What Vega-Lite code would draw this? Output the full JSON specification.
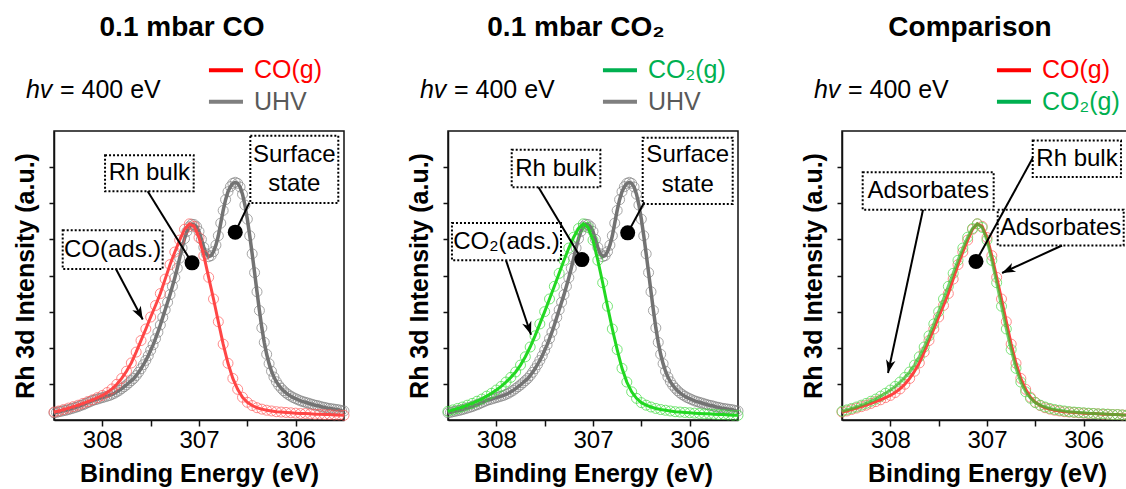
{
  "$schema": "https://vega.github.io/schema/vega-lite/v6.json",
  "padding": {"left": 12, "top": 13, "right": 0, "bottom": 0},
  "background": "white",
  "config": {
    "font": "Liberation Sans",
    "view": {"stroke": "#111", "strokeWidth": 1.5},
    "axis": {"grid": false, "domainColor": "#111", "domainWidth": 1.5, "tickColor": "#111", "tickWidth": 1.5, "labelColor": "#000", "titleColor": "#000", "labelFontSize": 24, "titleFontSize": 25, "titleFontWeight": "bold"},
    "title": {"fontSize": 28, "fontWeight": "bold", "color": "#000", "dx": -17, "offset": 16.5}
  },
  "datasets": {
    "uhv": [
      {"E":308.5,"I":0.20},{"E":308.475,"I":0.21},{"E":308.45,"I":0.23},{"E":308.425,"I":0.24},{"E":308.4,"I":0.26},{"E":308.375,"I":0.27},{"E":308.35,"I":0.29},{"E":308.325,"I":0.31},{"E":308.3,"I":0.33},{"E":308.275,"I":0.35},{"E":308.25,"I":0.37},{"E":308.225,"I":0.40},{"E":308.2,"I":0.42},{"E":308.175,"I":0.45},{"E":308.15,"I":0.48},{"E":308.125,"I":0.51},{"E":308.1,"I":0.54},{"E":308.075,"I":0.56},{"E":308.05,"I":0.58},{"E":308.025,"I":0.60},{"E":308.0,"I":0.62},{"E":307.975,"I":0.64},{"E":307.95,"I":0.66},{"E":307.925,"I":0.68},{"E":307.9,"I":0.71},{"E":307.875,"I":0.74},{"E":307.85,"I":0.78},{"E":307.825,"I":0.82},{"E":307.8,"I":0.87},{"E":307.775,"I":0.92},{"E":307.75,"I":0.97},{"E":307.725,"I":1.03},{"E":307.7,"I":1.09},{"E":307.675,"I":1.15},{"E":307.65,"I":1.23},{"E":307.625,"I":1.32},{"E":307.6,"I":1.42},{"E":307.575,"I":1.53},{"E":307.55,"I":1.65},{"E":307.525,"I":1.78},{"E":307.5,"I":1.93},{"E":307.475,"I":2.08},{"E":307.45,"I":2.25},{"E":307.425,"I":2.43},{"E":307.4,"I":2.63},{"E":307.375,"I":2.84},{"E":307.35,"I":3.05},{"E":307.325,"I":3.26},{"E":307.3,"I":3.47},{"E":307.275,"I":3.70},{"E":307.25,"I":3.94},{"E":307.225,"I":4.20},{"E":307.2,"I":4.48},{"E":307.175,"I":4.76},{"E":307.15,"I":5.02},{"E":307.125,"I":5.22},{"E":307.1,"I":5.35},{"E":307.075,"I":5.42},{"E":307.05,"I":5.41},{"E":307.025,"I":5.35},{"E":307.0,"I":5.22},{"E":306.975,"I":5.00},{"E":306.95,"I":4.78},{"E":306.925,"I":4.60},{"E":306.9,"I":4.52},{"E":306.875,"I":4.55},{"E":306.85,"I":4.66},{"E":306.825,"I":4.84},{"E":306.8,"I":5.10},{"E":306.775,"I":5.45},{"E":306.75,"I":5.80},{"E":306.725,"I":6.10},{"E":306.7,"I":6.32},{"E":306.675,"I":6.46},{"E":306.65,"I":6.55},{"E":306.625,"I":6.58},{"E":306.6,"I":6.55},{"E":306.575,"I":6.45},{"E":306.55,"I":6.25},{"E":306.525,"I":5.95},{"E":306.5,"I":5.56},{"E":306.475,"I":5.10},{"E":306.45,"I":4.60},{"E":306.425,"I":4.08},{"E":306.4,"I":3.55},{"E":306.375,"I":3.03},{"E":306.35,"I":2.55},{"E":306.325,"I":2.15},{"E":306.3,"I":1.82},{"E":306.275,"I":1.56},{"E":306.25,"I":1.35},{"E":306.225,"I":1.19},{"E":306.2,"I":1.06},{"E":306.175,"I":0.96},{"E":306.15,"I":0.88},{"E":306.125,"I":0.81},{"E":306.1,"I":0.75},{"E":306.075,"I":0.70},{"E":306.05,"I":0.66},{"E":306.025,"I":0.62},{"E":306.0,"I":0.59},{"E":305.975,"I":0.56},{"E":305.95,"I":0.53},{"E":305.925,"I":0.51},{"E":305.9,"I":0.49},{"E":305.875,"I":0.47},{"E":305.85,"I":0.45},{"E":305.825,"I":0.43},{"E":305.8,"I":0.41},{"E":305.775,"I":0.40},{"E":305.75,"I":0.38},{"E":305.725,"I":0.36},{"E":305.7,"I":0.35},{"E":305.675,"I":0.33},{"E":305.65,"I":0.32},{"E":305.625,"I":0.31},{"E":305.6,"I":0.30},{"E":305.575,"I":0.29},{"E":305.55,"I":0.28},{"E":305.525,"I":0.26},{"E":305.5,"I":0.25}
    ],
    "co": [
      {"E":308.5,"I":0.22},{"E":308.45,"I":0.25},{"E":308.4,"I":0.29},{"E":308.35,"I":0.33},{"E":308.3,"I":0.37},{"E":308.25,"I":0.41},{"E":308.2,"I":0.46},{"E":308.15,"I":0.51},{"E":308.1,"I":0.56},{"E":308.05,"I":0.62},{"E":308.0,"I":0.68},{"E":307.95,"I":0.76},{"E":307.9,"I":0.86},{"E":307.85,"I":0.99},{"E":307.8,"I":1.15},{"E":307.75,"I":1.35},{"E":307.7,"I":1.58},{"E":307.65,"I":1.88},{"E":307.6,"I":2.20},{"E":307.55,"I":2.52},{"E":307.5,"I":2.85},{"E":307.45,"I":3.17},{"E":307.4,"I":3.50},{"E":307.35,"I":3.90},{"E":307.3,"I":4.30},{"E":307.25,"I":4.65},{"E":307.2,"I":4.98},{"E":307.15,"I":5.28},{"E":307.1,"I":5.43},{"E":307.05,"I":5.36},{"E":307.0,"I":5.05},{"E":306.95,"I":4.55},{"E":306.9,"I":3.95},{"E":306.85,"I":3.35},{"E":306.8,"I":2.72},{"E":306.75,"I":2.10},{"E":306.7,"I":1.57},{"E":306.65,"I":1.15},{"E":306.6,"I":0.85},{"E":306.55,"I":0.63},{"E":306.5,"I":0.49},{"E":306.45,"I":0.40},{"E":306.4,"I":0.34},{"E":306.35,"I":0.30},{"E":306.3,"I":0.27},{"E":306.25,"I":0.25},{"E":306.2,"I":0.23},{"E":306.15,"I":0.22},{"E":306.1,"I":0.21},{"E":306.05,"I":0.20},{"E":306.0,"I":0.19},{"E":305.95,"I":0.18},{"E":305.9,"I":0.18},{"E":305.85,"I":0.17},{"E":305.8,"I":0.16},{"E":305.75,"I":0.16},{"E":305.7,"I":0.15},{"E":305.65,"I":0.15},{"E":305.6,"I":0.14},{"E":305.55,"I":0.14},{"E":305.5,"I":0.13}
    ],
    "co2": [
      {"E":308.5,"I":0.24},{"E":308.45,"I":0.28},{"E":308.4,"I":0.32},{"E":308.35,"I":0.36},{"E":308.3,"I":0.41},{"E":308.25,"I":0.46},{"E":308.2,"I":0.52},{"E":308.15,"I":0.58},{"E":308.1,"I":0.66},{"E":308.05,"I":0.74},{"E":308.0,"I":0.83},{"E":307.95,"I":0.93},{"E":307.9,"I":1.05},{"E":307.85,"I":1.18},{"E":307.8,"I":1.33},{"E":307.75,"I":1.52},{"E":307.7,"I":1.75},{"E":307.65,"I":2.02},{"E":307.6,"I":2.33},{"E":307.55,"I":2.66},{"E":307.5,"I":3.00},{"E":307.45,"I":3.35},{"E":307.4,"I":3.70},{"E":307.35,"I":4.06},{"E":307.3,"I":4.42},{"E":307.25,"I":4.76},{"E":307.2,"I":5.06},{"E":307.15,"I":5.30},{"E":307.1,"I":5.43},{"E":307.05,"I":5.33},{"E":307.0,"I":4.98},{"E":306.95,"I":4.42},{"E":306.9,"I":3.80},{"E":306.85,"I":3.15},{"E":306.8,"I":2.52},{"E":306.75,"I":1.95},{"E":306.7,"I":1.43},{"E":306.65,"I":1.05},{"E":306.6,"I":0.78},{"E":306.55,"I":0.60},{"E":306.5,"I":0.48},{"E":306.45,"I":0.41},{"E":306.4,"I":0.36},{"E":306.35,"I":0.32},{"E":306.3,"I":0.29},{"E":306.25,"I":0.27},{"E":306.2,"I":0.25},{"E":306.15,"I":0.23},{"E":306.1,"I":0.22},{"E":306.05,"I":0.21},{"E":306.0,"I":0.20},{"E":305.95,"I":0.19},{"E":305.9,"I":0.18},{"E":305.85,"I":0.17},{"E":305.8,"I":0.17},{"E":305.75,"I":0.16},{"E":305.7,"I":0.15},{"E":305.65,"I":0.15},{"E":305.6,"I":0.14},{"E":305.55,"I":0.13},{"E":305.5,"I":0.13}
    ],
    "boxes": [
      {"p":1,"E":307.972,"E2":307.055,"I":7.33,"I2":6.33},
      {"p":1,"E":306.469,"E2":305.559,"I":7.87,"I2":6.01},
      {"p":1,"E":308.41,"E2":307.376,"I":5.25,"I2":4.18},
      {"p":2,"E":307.841,"E2":306.924,"I":7.48,"I2":6.44},
      {"p":2,"E":306.486,"E2":305.555,"I":7.81,"I2":5.98},
      {"p":2,"E":308.459,"E2":307.331,"I":5.45,"I2":4.42},
      {"p":3,"E":306.527,"E2":305.614,"I":7.74,"I2":6.73},
      {"p":3,"E":308.286,"E2":306.931,"I":6.86,"I2":5.82},
      {"p":3,"E":306.889,"E2":305.586,"I":5.82,"I2":4.83}
    ],
    "labels": [
      {"p":1,"E":307.514,"I":6.83,"t":"Rh bulk"},
      {"p":1,"E":306.014,"I":7.34,"t":"Surface"},
      {"p":1,"E":306.014,"I":6.53,"t":"state"},
      {"p":1,"E":307.893,"I":4.71,"t":"CO(ads.)"},
      {"p":2,"E":307.383,"I":6.96,"t":"Rh bulk"},
      {"p":2,"E":306.02,"I":7.34,"t":"Surface"},
      {"p":2,"E":306.02,"I":6.5,"t":"state"},
      {"p":2,"E":307.895,"I":4.94,"t":"CO₂(ads.)"},
      {"p":3,"E":306.069,"I":7.22,"t":"Rh bulk"},
      {"p":3,"E":307.608,"I":6.34,"t":"Adsorbates"},
      {"p":3,"E":306.238,"I":5.31,"t":"Adsorbates"}
    ],
    "links": [
      {"p":1,"E":307.531,"I":6.33,"E2":307.072,"I2":4.35},
      {"p":1,"E":306.48,"I":6.01,"E2":306.625,"I2":5.2},
      {"p":1,"E":307.859,"I":4.18,"E2":307.582,"I2":2.78},
      {"p":2,"E":307.564,"I":6.44,"E2":307.115,"I2":4.44},
      {"p":2,"E":306.469,"I":6.03,"E2":306.641,"I2":5.18},
      {"p":2,"E":307.9,"I":4.42,"E2":307.641,"I2":2.36},
      {"p":3,"E":306.527,"I":7.25,"E2":307.114,"I2":4.39},
      {"p":3,"E":307.662,"I":5.82,"E2":308.024,"I2":1.3},
      {"p":3,"E":306.224,"I":4.83,"E2":306.844,"I2":4.07}
    ],
    "heads": [
      {"p":1,"E":307.582,"I":2.78,"ang":152},
      {"p":2,"E":307.641,"I":2.36,"ang":161},
      {"p":3,"E":308.024,"I":1.3,"ang":192},
      {"p":3,"E":306.844,"I":4.07,"ang":245}
    ],
    "dots": [
      {"p":1,"E":307.072,"I":4.35},{"p":1,"E":306.625,"I":5.2},
      {"p":2,"E":307.115,"I":4.44},{"p":2,"E":306.641,"I":5.18},
      {"p":3,"E":307.114,"I":4.39}
    ],
    "legend": [
      {"p":1,"s":"CO(g)","E":306.897,"E2":306.545,"I":9.68},
      {"p":1,"s":"UHV","E":306.897,"E2":306.545,"I":8.81},
      {"p":2,"s":"CO₂(g)","E":306.897,"E2":306.545,"I":9.68},
      {"p":2,"s":"UHV","E":306.897,"E2":306.545,"I":8.81},
      {"p":3,"s":"CO(g)","E":306.897,"E2":306.545,"I":9.68},
      {"p":3,"s":"CO₂(g)","E":306.897,"E2":306.545,"I":8.81}
    ],
    "hv": [{"E":308.79,"I":9.13,"a":"hv","b":"= 400 eV"}]
  },
  "bounds": "flush",
  "spacing": 104,
  "hconcat": [
    {
      "width": 290, "height": 289,
      "title": {"text": "0.1 mbar CO"},
      "layer": [
        {"data": {"name": "uhv"}, "mark": {"type": "point", "shape": "circle", "filled": false, "size": 100, "strokeWidth": 1, "color": "#808080"},
         "encoding": {
           "x": {"field": "E", "type": "quantitative", "scale": {"domain": [305.5, 308.5], "reverse": true, "nice": false, "zero": false}, "axis": {"title": "Binding Energy (eV)", "values": [308, 307.5, 307, 306.5, 306], "format": ".0f", "labelExpr": "datum.value % 1 === 0 ? datum.label : ''", "tickSize": 6, "labelPadding": 2, "titlePadding": 9}},
           "y": {"field": "I", "type": "quantitative", "scale": {"domain": [0, 8], "nice": false, "zero": false}, "axis": {"title": "Rh 3d Intensity (a.u.)", "values": [1, 2, 3, 4, 5, 6, 7], "labels": false, "tickSize": 5, "titlePadding": 10}}
         }},
        {"data": {"name": "uhv"}, "mark": {"type": "line", "color": "#737373", "strokeWidth": 3.5},
         "encoding": {"x": {"field": "E", "type": "quantitative", "scale": {"domain": [305.5, 308.5], "reverse": true, "nice": false, "zero": false}}, "y": {"field": "I", "type": "quantitative", "scale": {"domain": [0, 8], "nice": false, "zero": false}}}},
        {"data": {"name": "co"}, "mark": {"type": "point", "shape": "circle", "filled": false, "size": 100, "strokeWidth": 1, "color": "#ff5a5a"},
         "encoding": {"x": {"field": "E", "type": "quantitative", "scale": {"domain": [305.5, 308.5], "reverse": true, "nice": false, "zero": false}}, "y": {"field": "I", "type": "quantitative", "scale": {"domain": [0, 8], "nice": false, "zero": false}}}},
        {"data": {"name": "co"}, "mark": {"type": "line", "color": "#ff4646", "strokeWidth": 3},
         "encoding": {"x": {"field": "E", "type": "quantitative", "scale": {"domain": [305.5, 308.5], "reverse": true, "nice": false, "zero": false}}, "y": {"field": "I", "type": "quantitative", "scale": {"domain": [0, 8], "nice": false, "zero": false}}}},
        {"data": {"name": "boxes"}, "transform": [{"filter": "datum.p == 1"}], "mark": {"type": "rect", "filled": false, "stroke": "#000", "strokeWidth": 2, "strokeDash": [2, 2]},
         "encoding": {"x": {"field": "E", "type": "quantitative", "scale": {"domain": [305.5, 308.5], "reverse": true, "nice": false, "zero": false}}, "x2": {"field": "E2"}, "y": {"field": "I", "type": "quantitative", "scale": {"domain": [0, 8], "nice": false, "zero": false}}, "y2": {"field": "I2"}}},
        {"data": {"name": "labels"}, "transform": [{"filter": "datum.p == 1"}], "mark": {"type": "text", "fontSize": 24, "align": "center", "baseline": "middle", "color": "#000"},
         "encoding": {"x": {"field": "E", "type": "quantitative", "scale": {"domain": [305.5, 308.5], "reverse": true, "nice": false, "zero": false}}, "y": {"field": "I", "type": "quantitative", "scale": {"domain": [0, 8], "nice": false, "zero": false}}, "text": {"field": "t"}}},
        {"data": {"name": "links"}, "transform": [{"filter": "datum.p == 1"}], "mark": {"type": "rule", "color": "#000", "strokeWidth": 2},
         "encoding": {"x": {"field": "E", "type": "quantitative", "scale": {"domain": [305.5, 308.5], "reverse": true, "nice": false, "zero": false}}, "x2": {"field": "E2"}, "y": {"field": "I", "type": "quantitative", "scale": {"domain": [0, 8], "nice": false, "zero": false}}, "y2": {"field": "I2"}}},
        {"data": {"name": "heads"}, "transform": [{"filter": "datum.p == 1"}], "mark": {"type": "point", "shape": "M0,0L-0.8,2.2L0,1.6L0.8,2.2Z", "filled": true, "size": 144, "color": "#000", "opacity": 1},
         "encoding": {"x": {"field": "E", "type": "quantitative", "scale": {"domain": [305.5, 308.5], "reverse": true, "nice": false, "zero": false}}, "y": {"field": "I", "type": "quantitative", "scale": {"domain": [0, 8], "nice": false, "zero": false}}, "angle": {"field": "ang", "type": "quantitative", "scale": null}}},
        {"data": {"name": "dots"}, "transform": [{"filter": "datum.p == 1"}], "mark": {"type": "point", "shape": "circle", "filled": true, "size": 225, "color": "#000", "opacity": 1},
         "encoding": {"x": {"field": "E", "type": "quantitative", "scale": {"domain": [305.5, 308.5], "reverse": true, "nice": false, "zero": false}}, "y": {"field": "I", "type": "quantitative", "scale": {"domain": [0, 8], "nice": false, "zero": false}}}},
        {"data": {"name": "legend"}, "transform": [{"filter": "datum.p == 1"}], "mark": {"type": "rule", "strokeWidth": 4},
         "encoding": {"x": {"field": "E", "type": "quantitative", "scale": {"domain": [305.5, 308.5], "reverse": true, "nice": false, "zero": false}}, "x2": {"field": "E2"}, "y": {"field": "I", "type": "quantitative", "scale": {"domain": [0, 8], "nice": false, "zero": false}}, "stroke": {"field": "s", "type": "nominal", "scale": {"domain": ["CO(g)", "CO₂(g)", "UHV"], "range": ["#ff0000", "#00b050", "#7f7f7f"]}, "legend": null}}},
        {"data": {"name": "legend"}, "transform": [{"filter": "datum.p == 1"}], "mark": {"type": "text", "fontSize": 25, "align": "left", "baseline": "middle", "dx": 11},
         "encoding": {"x": {"field": "E2", "type": "quantitative", "scale": {"domain": [305.5, 308.5], "reverse": true, "nice": false, "zero": false}}, "y": {"field": "I", "type": "quantitative", "scale": {"domain": [0, 8], "nice": false, "zero": false}}, "text": {"field": "s"}, "color": {"field": "s", "type": "nominal", "scale": {"domain": ["CO(g)", "CO₂(g)", "UHV"], "range": ["#ff0000", "#00b050", "#595959"]}, "legend": null}}},
        {"data": {"name": "hv"}, "mark": {"type": "text", "fontSize": 25, "fontStyle": "italic", "align": "left", "baseline": "middle", "color": "#000"},
         "encoding": {"x": {"field": "E", "type": "quantitative", "scale": {"domain": [305.5, 308.5], "reverse": true, "nice": false, "zero": false}}, "y": {"field": "I", "type": "quantitative", "scale": {"domain": [0, 8], "nice": false, "zero": false}}, "text": {"field": "a"}}},
        {"data": {"name": "hv"}, "mark": {"type": "text", "fontSize": 25, "align": "left", "baseline": "middle", "color": "#000", "dx": 34},
         "encoding": {"x": {"field": "E", "type": "quantitative", "scale": {"domain": [305.5, 308.5], "reverse": true, "nice": false, "zero": false}}, "y": {"field": "I", "type": "quantitative", "scale": {"domain": [0, 8], "nice": false, "zero": false}}, "text": {"field": "b"}}}
      ]
    },
    {
      "width": 290, "height": 289,
      "title": {"text": "0.1 mbar CO₂"},
      "layer": [
        {"data": {"name": "uhv"}, "mark": {"type": "point", "shape": "circle", "filled": false, "size": 100, "strokeWidth": 1, "color": "#808080"},
         "encoding": {
           "x": {"field": "E", "type": "quantitative", "scale": {"domain": [305.5, 308.5], "reverse": true, "nice": false, "zero": false}, "axis": {"title": "Binding Energy (eV)", "values": [308, 307.5, 307, 306.5, 306], "format": ".0f", "labelExpr": "datum.value % 1 === 0 ? datum.label : ''", "tickSize": 6, "labelPadding": 2, "titlePadding": 9}},
           "y": {"field": "I", "type": "quantitative", "scale": {"domain": [0, 8], "nice": false, "zero": false}, "axis": {"title": "Rh 3d Intensity (a.u.)", "values": [1, 2, 3, 4, 5, 6, 7], "labels": false, "tickSize": 5, "titlePadding": 10}}
         }},
        {"data": {"name": "uhv"}, "mark": {"type": "line", "color": "#737373", "strokeWidth": 3.5},
         "encoding": {"x": {"field": "E", "type": "quantitative", "scale": {"domain": [305.5, 308.5], "reverse": true, "nice": false, "zero": false}}, "y": {"field": "I", "type": "quantitative", "scale": {"domain": [0, 8], "nice": false, "zero": false}}}},
        {"data": {"name": "co2"}, "mark": {"type": "point", "shape": "circle", "filled": false, "size": 100, "strokeWidth": 1, "color": "#3ddc3d"},
         "encoding": {"x": {"field": "E", "type": "quantitative", "scale": {"domain": [305.5, 308.5], "reverse": true, "nice": false, "zero": false}}, "y": {"field": "I", "type": "quantitative", "scale": {"domain": [0, 8], "nice": false, "zero": false}}}},
        {"data": {"name": "co2"}, "mark": {"type": "line", "color": "#22d822", "strokeWidth": 3},
         "encoding": {"x": {"field": "E", "type": "quantitative", "scale": {"domain": [305.5, 308.5], "reverse": true, "nice": false, "zero": false}}, "y": {"field": "I", "type": "quantitative", "scale": {"domain": [0, 8], "nice": false, "zero": false}}}},
        {"data": {"name": "boxes"}, "transform": [{"filter": "datum.p == 2"}], "mark": {"type": "rect", "filled": false, "stroke": "#000", "strokeWidth": 2, "strokeDash": [2, 2]},
         "encoding": {"x": {"field": "E", "type": "quantitative", "scale": {"domain": [305.5, 308.5], "reverse": true, "nice": false, "zero": false}}, "x2": {"field": "E2"}, "y": {"field": "I", "type": "quantitative", "scale": {"domain": [0, 8], "nice": false, "zero": false}}, "y2": {"field": "I2"}}},
        {"data": {"name": "labels"}, "transform": [{"filter": "datum.p == 2"}], "mark": {"type": "text", "fontSize": 24, "align": "center", "baseline": "middle", "color": "#000"},
         "encoding": {"x": {"field": "E", "type": "quantitative", "scale": {"domain": [305.5, 308.5], "reverse": true, "nice": false, "zero": false}}, "y": {"field": "I", "type": "quantitative", "scale": {"domain": [0, 8], "nice": false, "zero": false}}, "text": {"field": "t"}}},
        {"data": {"name": "links"}, "transform": [{"filter": "datum.p == 2"}], "mark": {"type": "rule", "color": "#000", "strokeWidth": 2},
         "encoding": {"x": {"field": "E", "type": "quantitative", "scale": {"domain": [305.5, 308.5], "reverse": true, "nice": false, "zero": false}}, "x2": {"field": "E2"}, "y": {"field": "I", "type": "quantitative", "scale": {"domain": [0, 8], "nice": false, "zero": false}}, "y2": {"field": "I2"}}},
        {"data": {"name": "heads"}, "transform": [{"filter": "datum.p == 2"}], "mark": {"type": "point", "shape": "M0,0L-0.8,2.2L0,1.6L0.8,2.2Z", "filled": true, "size": 144, "color": "#000", "opacity": 1},
         "encoding": {"x": {"field": "E", "type": "quantitative", "scale": {"domain": [305.5, 308.5], "reverse": true, "nice": false, "zero": false}}, "y": {"field": "I", "type": "quantitative", "scale": {"domain": [0, 8], "nice": false, "zero": false}}, "angle": {"field": "ang", "type": "quantitative", "scale": null}}},
        {"data": {"name": "dots"}, "transform": [{"filter": "datum.p == 2"}], "mark": {"type": "point", "shape": "circle", "filled": true, "size": 225, "color": "#000", "opacity": 1},
         "encoding": {"x": {"field": "E", "type": "quantitative", "scale": {"domain": [305.5, 308.5], "reverse": true, "nice": false, "zero": false}}, "y": {"field": "I", "type": "quantitative", "scale": {"domain": [0, 8], "nice": false, "zero": false}}}},
        {"data": {"name": "legend"}, "transform": [{"filter": "datum.p == 2"}], "mark": {"type": "rule", "strokeWidth": 4},
         "encoding": {"x": {"field": "E", "type": "quantitative", "scale": {"domain": [305.5, 308.5], "reverse": true, "nice": false, "zero": false}}, "x2": {"field": "E2"}, "y": {"field": "I", "type": "quantitative", "scale": {"domain": [0, 8], "nice": false, "zero": false}}, "stroke": {"field": "s", "type": "nominal", "scale": {"domain": ["CO(g)", "CO₂(g)", "UHV"], "range": ["#ff0000", "#00b050", "#7f7f7f"]}, "legend": null}}},
        {"data": {"name": "legend"}, "transform": [{"filter": "datum.p == 2"}], "mark": {"type": "text", "fontSize": 25, "align": "left", "baseline": "middle", "dx": 11},
         "encoding": {"x": {"field": "E2", "type": "quantitative", "scale": {"domain": [305.5, 308.5], "reverse": true, "nice": false, "zero": false}}, "y": {"field": "I", "type": "quantitative", "scale": {"domain": [0, 8], "nice": false, "zero": false}}, "text": {"field": "s"}, "color": {"field": "s", "type": "nominal", "scale": {"domain": ["CO(g)", "CO₂(g)", "UHV"], "range": ["#ff0000", "#00b050", "#595959"]}, "legend": null}}},
        {"data": {"name": "hv"}, "mark": {"type": "text", "fontSize": 25, "fontStyle": "italic", "align": "left", "baseline": "middle", "color": "#000"},
         "encoding": {"x": {"field": "E", "type": "quantitative", "scale": {"domain": [305.5, 308.5], "reverse": true, "nice": false, "zero": false}}, "y": {"field": "I", "type": "quantitative", "scale": {"domain": [0, 8], "nice": false, "zero": false}}, "text": {"field": "a"}}},
        {"data": {"name": "hv"}, "mark": {"type": "text", "fontSize": 25, "align": "left", "baseline": "middle", "color": "#000", "dx": 34},
         "encoding": {"x": {"field": "E", "type": "quantitative", "scale": {"domain": [305.5, 308.5], "reverse": true, "nice": false, "zero": false}}, "y": {"field": "I", "type": "quantitative", "scale": {"domain": [0, 8], "nice": false, "zero": false}}, "text": {"field": "b"}}}
      ]
    },
    {
      "width": 290, "height": 289,
      "title": {"text": "Comparison"},
      "layer": [
        {"data": {"name": "co"}, "mark": {"type": "point", "shape": "circle", "filled": false, "size": 100, "strokeWidth": 1, "color": "#ff5a5a"},
         "encoding": {
           "x": {"field": "E", "type": "quantitative", "scale": {"domain": [305.5, 308.5], "reverse": true, "nice": false, "zero": false}, "axis": {"title": "Binding Energy (eV)", "values": [308, 307.5, 307, 306.5, 306], "format": ".0f", "labelExpr": "datum.value % 1 === 0 ? datum.label : ''", "tickSize": 6, "labelPadding": 2, "titlePadding": 9}},
           "y": {"field": "I", "type": "quantitative", "scale": {"domain": [0, 8], "nice": false, "zero": false}, "axis": {"title": "Rh 3d Intensity (a.u.)", "values": [1, 2, 3, 4, 5, 6, 7], "labels": false, "tickSize": 5, "titlePadding": 10}}
         }},
        {"data": {"name": "co2"}, "mark": {"type": "point", "shape": "circle", "filled": false, "size": 100, "strokeWidth": 1, "color": "#5ee05e", "opacity": 0.8},
         "encoding": {"x": {"field": "E", "type": "quantitative", "scale": {"domain": [305.5, 308.5], "reverse": true, "nice": false, "zero": false}}, "y": {"field": "I", "type": "quantitative", "scale": {"domain": [0, 8], "nice": false, "zero": false}}}},
        {"data": {"name": "co"}, "mark": {"type": "line", "color": "#ff4040", "strokeWidth": 3},
         "encoding": {"x": {"field": "E", "type": "quantitative", "scale": {"domain": [305.5, 308.5], "reverse": true, "nice": false, "zero": false}}, "y": {"field": "I", "type": "quantitative", "scale": {"domain": [0, 8], "nice": false, "zero": false}}}},
        {"data": {"name": "co2"}, "mark": {"type": "line", "color": "#2fc42f", "strokeWidth": 3, "opacity": 0.7},
         "encoding": {"x": {"field": "E", "type": "quantitative", "scale": {"domain": [305.5, 308.5], "reverse": true, "nice": false, "zero": false}}, "y": {"field": "I", "type": "quantitative", "scale": {"domain": [0, 8], "nice": false, "zero": false}}}},
        {"data": {"name": "boxes"}, "transform": [{"filter": "datum.p == 3"}], "mark": {"type": "rect", "filled": false, "stroke": "#000", "strokeWidth": 2, "strokeDash": [2, 2]},
         "encoding": {"x": {"field": "E", "type": "quantitative", "scale": {"domain": [305.5, 308.5], "reverse": true, "nice": false, "zero": false}}, "x2": {"field": "E2"}, "y": {"field": "I", "type": "quantitative", "scale": {"domain": [0, 8], "nice": false, "zero": false}}, "y2": {"field": "I2"}}},
        {"data": {"name": "labels"}, "transform": [{"filter": "datum.p == 3"}], "mark": {"type": "text", "fontSize": 24, "align": "center", "baseline": "middle", "color": "#000"},
         "encoding": {"x": {"field": "E", "type": "quantitative", "scale": {"domain": [305.5, 308.5], "reverse": true, "nice": false, "zero": false}}, "y": {"field": "I", "type": "quantitative", "scale": {"domain": [0, 8], "nice": false, "zero": false}}, "text": {"field": "t"}}},
        {"data": {"name": "links"}, "transform": [{"filter": "datum.p == 3"}], "mark": {"type": "rule", "color": "#000", "strokeWidth": 2},
         "encoding": {"x": {"field": "E", "type": "quantitative", "scale": {"domain": [305.5, 308.5], "reverse": true, "nice": false, "zero": false}}, "x2": {"field": "E2"}, "y": {"field": "I", "type": "quantitative", "scale": {"domain": [0, 8], "nice": false, "zero": false}}, "y2": {"field": "I2"}}},
        {"data": {"name": "heads"}, "transform": [{"filter": "datum.p == 3"}], "mark": {"type": "point", "shape": "M0,0L-0.8,2.2L0,1.6L0.8,2.2Z", "filled": true, "size": 144, "color": "#000", "opacity": 1},
         "encoding": {"x": {"field": "E", "type": "quantitative", "scale": {"domain": [305.5, 308.5], "reverse": true, "nice": false, "zero": false}}, "y": {"field": "I", "type": "quantitative", "scale": {"domain": [0, 8], "nice": false, "zero": false}}, "angle": {"field": "ang", "type": "quantitative", "scale": null}}},
        {"data": {"name": "dots"}, "transform": [{"filter": "datum.p == 3"}], "mark": {"type": "point", "shape": "circle", "filled": true, "size": 225, "color": "#000", "opacity": 1},
         "encoding": {"x": {"field": "E", "type": "quantitative", "scale": {"domain": [305.5, 308.5], "reverse": true, "nice": false, "zero": false}}, "y": {"field": "I", "type": "quantitative", "scale": {"domain": [0, 8], "nice": false, "zero": false}}}},
        {"data": {"name": "legend"}, "transform": [{"filter": "datum.p == 3"}], "mark": {"type": "rule", "strokeWidth": 4},
         "encoding": {"x": {"field": "E", "type": "quantitative", "scale": {"domain": [305.5, 308.5], "reverse": true, "nice": false, "zero": false}}, "x2": {"field": "E2"}, "y": {"field": "I", "type": "quantitative", "scale": {"domain": [0, 8], "nice": false, "zero": false}}, "stroke": {"field": "s", "type": "nominal", "scale": {"domain": ["CO(g)", "CO₂(g)", "UHV"], "range": ["#ff0000", "#00b050", "#7f7f7f"]}, "legend": null}}},
        {"data": {"name": "legend"}, "transform": [{"filter": "datum.p == 3"}], "mark": {"type": "text", "fontSize": 25, "align": "left", "baseline": "middle", "dx": 11},
         "encoding": {"x": {"field": "E2", "type": "quantitative", "scale": {"domain": [305.5, 308.5], "reverse": true, "nice": false, "zero": false}}, "y": {"field": "I", "type": "quantitative", "scale": {"domain": [0, 8], "nice": false, "zero": false}}, "text": {"field": "s"}, "color": {"field": "s", "type": "nominal", "scale": {"domain": ["CO(g)", "CO₂(g)", "UHV"], "range": ["#ff0000", "#00b050", "#595959"]}, "legend": null}}},
        {"data": {"name": "hv"}, "mark": {"type": "text", "fontSize": 25, "fontStyle": "italic", "align": "left", "baseline": "middle", "color": "#000"},
         "encoding": {"x": {"field": "E", "type": "quantitative", "scale": {"domain": [305.5, 308.5], "reverse": true, "nice": false, "zero": false}}, "y": {"field": "I", "type": "quantitative", "scale": {"domain": [0, 8], "nice": false, "zero": false}}, "text": {"field": "a"}}},
        {"data": {"name": "hv"}, "mark": {"type": "text", "fontSize": 25, "align": "left", "baseline": "middle", "color": "#000", "dx": 34},
         "encoding": {"x": {"field": "E", "type": "quantitative", "scale": {"domain": [305.5, 308.5], "reverse": true, "nice": false, "zero": false}}, "y": {"field": "I", "type": "quantitative", "scale": {"domain": [0, 8], "nice": false, "zero": false}}, "text": {"field": "b"}}}
      ]
    }
  ]
}
